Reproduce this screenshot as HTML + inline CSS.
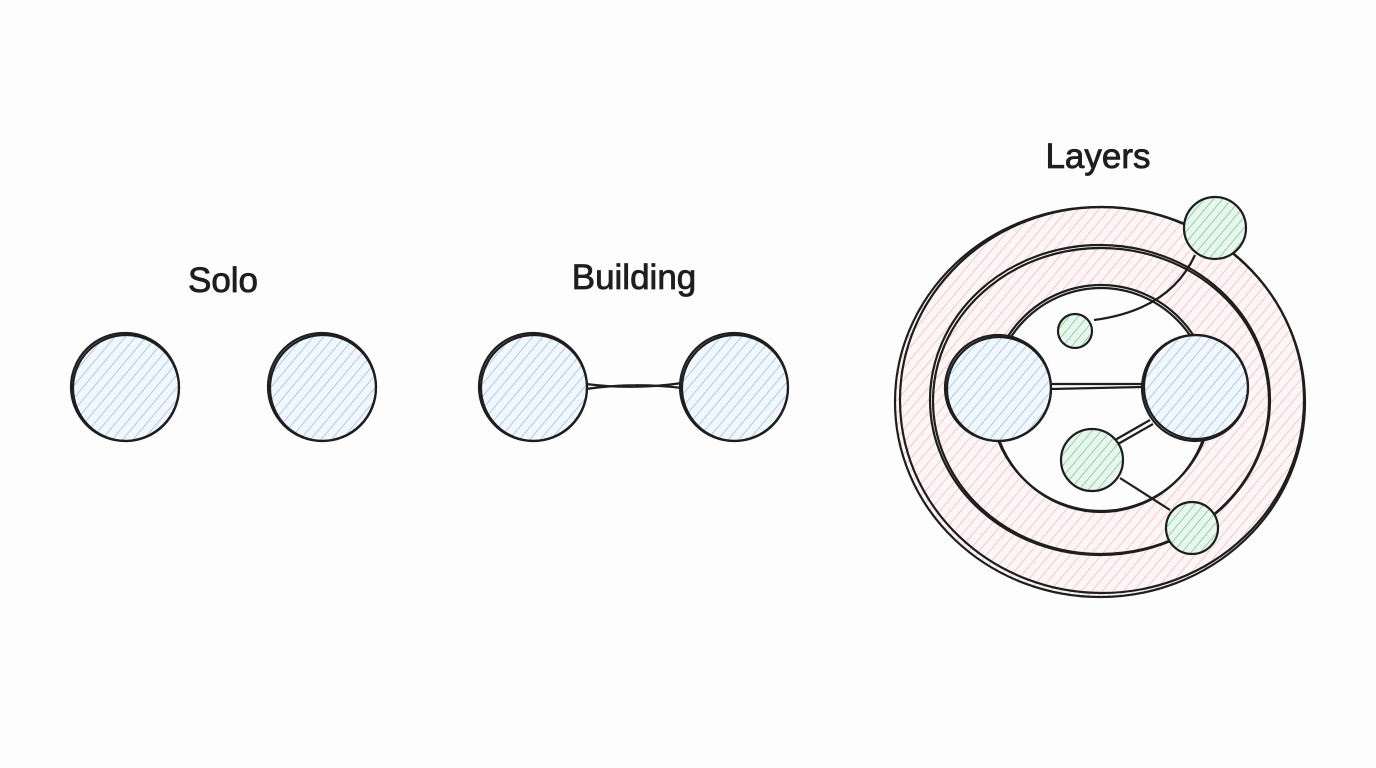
<!DOCTYPE html>
<html><head><meta charset="utf-8"><style>
html,body{margin:0;padding:0;background:#fdfdfd;width:1376px;height:768px;overflow:hidden}
svg{display:block}
text{font-family:"Liberation Sans",sans-serif;font-size:35px;fill:#1e1e1e;stroke:#1e1e1e;stroke-width:0.8}
</style></head><body>
<svg width="1376" height="768" viewBox="0 0 1376 768">
<defs>
<pattern id="blue" width="8" height="8" patternUnits="userSpaceOnUse" patternTransform="rotate(40)">
<rect width="8" height="8" fill="#f1f7fc"/><line x1="0" y1="0" x2="0" y2="8" stroke="#a9cdec" stroke-width="2"/></pattern>
<pattern id="green" width="7" height="7" patternUnits="userSpaceOnUse" patternTransform="rotate(40)">
<rect width="7" height="7" fill="#e8f6ed"/><line x1="0" y1="0" x2="0" y2="7" stroke="#8fd3a8" stroke-width="2"/></pattern>
<pattern id="pink" width="8" height="8" patternUnits="userSpaceOnUse" patternTransform="rotate(40)">
<rect width="8" height="8" fill="#fdf6f7"/><line x1="0" y1="0" x2="0" y2="8" stroke="#f2bcc8" stroke-width="1.6"/></pattern>
</defs>
<g stroke="#1e1e1e" stroke-width="2.2" fill="none">
<text x="223" y="292" text-anchor="middle">Solo</text>
<text x="634" y="289" text-anchor="middle">Building</text>
<text x="1098" y="168" text-anchor="middle">Layers</text>

<circle cx="125" cy="387" r="54" fill="url(#blue)"/>
<circle cx="126" cy="388" r="53"/>
<circle cx="322" cy="387" r="54" fill="url(#blue)"/>
<circle cx="323" cy="388" r="53"/>

<path d="M586 384 Q634 390 682 383 M586 389 Q634 382 682 388"/>
<circle cx="533" cy="387" r="54" fill="url(#blue)"/>
<circle cx="534" cy="388" r="53"/>
<circle cx="734" cy="387" r="54" fill="url(#blue)"/>
<circle cx="735" cy="388" r="53"/>

<path fill-rule="evenodd" fill="url(#pink)" stroke="none" d="M895 402 a205 195 0 1 0 410 0 a205 195 0 1 0 -410 0 Z M990 398 a111 113 0 1 0 222 0 a111 113 0 1 0 -222 0 Z"/>
<ellipse cx="1100" cy="402" rx="205" ry="195"/>
<ellipse cx="1102" cy="400" rx="202" ry="193"/>
<ellipse cx="1100" cy="400" rx="170" ry="155"/>
<ellipse cx="1101" cy="401" rx="168" ry="153"/>
<ellipse cx="1101" cy="398" rx="111" ry="113"/>
<ellipse cx="1101" cy="400" rx="109" ry="112"/>

<path d="M1094 320 Q1170 310 1195 255"/>
<path d="M1051 384 L1142 384 M1051 389 L1142 387"/>
<path d="M1115 440 L1150 420 M1118 444 L1153 424"/>
<path d="M1120 478 L1170 510"/>

<circle cx="998" cy="388" r="53" fill="url(#blue)"/>
<circle cx="999" cy="389" r="52"/>
<circle cx="1195" cy="388" r="53" fill="url(#blue)"/>
<circle cx="1196" cy="387" r="52"/>
<circle cx="1075" cy="331" r="17" fill="url(#green)"/>
<circle cx="1092" cy="460" r="31" fill="url(#green)"/>
<circle cx="1215" cy="228" r="31" fill="url(#green)"/>
<circle cx="1192" cy="528" r="26" fill="url(#green)"/>
</g>
</svg>
</body></html>
